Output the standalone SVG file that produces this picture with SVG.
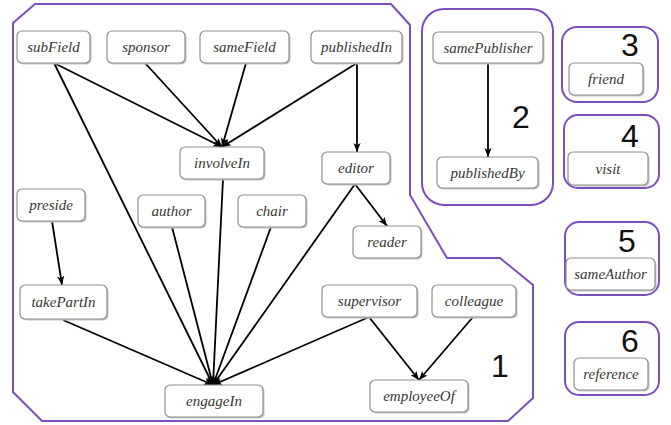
<svg xmlns="http://www.w3.org/2000/svg" width="671" height="425" viewBox="0 0 671 425">
<defs>
<marker id="arr" viewBox="0 0 10 8" refX="10" refY="4" markerWidth="9" markerHeight="8" markerUnits="userSpaceOnUse" orient="auto">
<path d="M0,0 L10,4 L0,8 L2.5,4 z" fill="#000"/>
</marker>
</defs>
<style>
.region{fill:none;stroke:#7b4fbd;stroke-width:2}
.shadow{fill:#c4c4c4;stroke:none}
.box{fill:#fff;stroke:#8f8f8f;stroke-width:1.2}
.lbl{font-family:"Liberation Serif","DejaVu Serif",serif;font-style:italic;font-size:15px;fill:#3a3633;text-anchor:middle}
.num{font-family:"Liberation Sans",Arial,sans-serif;font-size:32px;fill:#111;text-anchor:middle}
.edge{stroke:#000;stroke-width:1.8;fill:none;marker-end:url(#arr)}
</style>
<rect width="671" height="425" fill="#fff"/>
<g id="regions">
<polygon class="region" points="13,23 35,4 391,4 410,25 410,195 447,258 500,258 533,285 533,398 508,421 42,421 13,392"/>
<rect class="region" x="422" y="9" width="131" height="196" rx="22"/>
<rect class="region" x="562" y="27" width="96" height="75" rx="15"/>
<rect class="region" x="564" y="115" width="95" height="73" rx="14"/>
<rect class="region" x="565" y="222" width="94" height="73" rx="14"/>
<rect class="region" x="565" y="322" width="94" height="73" rx="14"/>
<text class="num" x="500" y="377">1</text>
<text class="num" x="521" y="128">2</text>
<text class="num" x="630" y="56">3</text>
<text class="num" x="630" y="147">4</text>
<text class="num" x="627" y="252">5</text>
<text class="num" x="630" y="352">6</text>
</g>
<g id="connectors">
<line class="edge" x1="54" y1="63" x2="222" y2="147"/>
<line class="edge" x1="54" y1="63" x2="213" y2="385"/>
<line class="edge" x1="145" y1="63" x2="222" y2="147"/>
<line class="edge" x1="246" y1="63" x2="222" y2="147"/>
<line class="edge" x1="357" y1="63" x2="222" y2="147"/>
<line class="edge" x1="357" y1="63" x2="357" y2="152"/>
<line class="edge" x1="223" y1="179" x2="213" y2="385"/>
<line class="edge" x1="172" y1="227" x2="213" y2="385"/>
<line class="edge" x1="271" y1="227" x2="213" y2="385"/>
<line class="edge" x1="355" y1="184" x2="213" y2="385"/>
<line class="edge" x1="355" y1="184" x2="387" y2="226"/>
<line class="edge" x1="52" y1="221" x2="62" y2="285"/>
<line class="edge" x1="63" y1="320" x2="213" y2="385"/>
<line class="edge" x1="369" y1="317" x2="213" y2="385"/>
<line class="edge" x1="369" y1="317" x2="419" y2="380"/>
<line class="edge" x1="473" y1="317" x2="419" y2="380"/>
<line class="edge" x1="488" y1="63" x2="488" y2="157"/>
</g>
<g id="n-subField"><rect class="shadow" x="18.5" y="32.5" width="73" height="32" rx="5"/><rect class="box" x="17" y="31" width="73" height="32" rx="5"/><text class="lbl" x="53.5" y="52">subField</text></g>
<g id="n-sponsor"><rect class="shadow" x="108.5" y="32.5" width="78" height="32" rx="5"/><rect class="box" x="107" y="31" width="78" height="32" rx="5"/><text class="lbl" x="146" y="52">sponsor</text></g>
<g id="n-sameField"><rect class="shadow" x="201.5" y="32.5" width="89" height="32" rx="5"/><rect class="box" x="200" y="31" width="89" height="32" rx="5"/><text class="lbl" x="244.5" y="52">sameField</text></g>
<g id="n-publishedIn"><rect class="shadow" x="312.5" y="32.5" width="91" height="32" rx="5"/><rect class="box" x="311" y="31" width="91" height="32" rx="5"/><text class="lbl" x="356.5" y="52">publishedIn</text></g>
<g id="n-involveIn"><rect class="shadow" x="181.5" y="148.5" width="84" height="32" rx="5"/><rect class="box" x="180" y="147" width="84" height="32" rx="5"/><text class="lbl" x="222" y="168">involveIn</text></g>
<g id="n-editor"><rect class="shadow" x="323.5" y="153.5" width="68" height="32" rx="5"/><rect class="box" x="322" y="152" width="68" height="32" rx="5"/><text class="lbl" x="356" y="173">editor</text></g>
<g id="n-preside"><rect class="shadow" x="18.5" y="190.5" width="68" height="32" rx="5"/><rect class="box" x="17" y="189" width="68" height="32" rx="5"/><text class="lbl" x="51" y="210">preside</text></g>
<g id="n-author"><rect class="shadow" x="139.5" y="196.5" width="67" height="32" rx="5"/><rect class="box" x="138" y="195" width="67" height="32" rx="5"/><text class="lbl" x="171.5" y="216">author</text></g>
<g id="n-chair"><rect class="shadow" x="239.5" y="196.5" width="68" height="32" rx="5"/><rect class="box" x="238" y="195" width="68" height="32" rx="5"/><text class="lbl" x="272" y="216">chair</text></g>
<g id="n-reader"><rect class="shadow" x="354.5" y="227.5" width="68" height="32" rx="5"/><rect class="box" x="353" y="226" width="68" height="32" rx="5"/><text class="lbl" x="387" y="247">reader</text></g>
<g id="n-takePartIn"><rect class="shadow" x="21.5" y="286.5" width="87" height="34" rx="5"/><rect class="box" x="20" y="285" width="87" height="34" rx="5"/><text class="lbl" x="63.5" y="307">takePartIn</text></g>
<g id="n-supervisor"><rect class="shadow" x="323.5" y="286.5" width="95" height="32" rx="5"/><rect class="box" x="322" y="285" width="95" height="32" rx="5"/><text class="lbl" x="369.5" y="306">supervisor</text></g>
<g id="n-colleague"><rect class="shadow" x="433.5" y="286.5" width="84" height="32" rx="5"/><rect class="box" x="432" y="285" width="84" height="32" rx="5"/><text class="lbl" x="474" y="306">colleague</text></g>
<g id="n-engageIn"><rect class="shadow" x="166.5" y="386.5" width="98" height="32" rx="5"/><rect class="box" x="165" y="385" width="98" height="32" rx="5"/><text class="lbl" x="214" y="406">engageIn</text></g>
<g id="n-employeeOf"><rect class="shadow" x="371.5" y="381.5" width="98" height="32" rx="5"/><rect class="box" x="370" y="380" width="98" height="32" rx="5"/><text class="lbl" x="419" y="401">employeeOf</text></g>
<g id="n-samePublisher"><rect class="shadow" x="434.5" y="33.5" width="110" height="31" rx="5"/><rect class="box" x="433" y="32" width="110" height="31" rx="5"/><text class="lbl" x="488" y="52.5">samePublisher</text></g>
<g id="n-publishedBy"><rect class="shadow" x="438.5" y="158.5" width="101" height="31" rx="5"/><rect class="box" x="437" y="157" width="101" height="31" rx="5"/><text class="lbl" x="487.5" y="177.5">publishedBy</text></g>
<g id="n-friend"><rect class="shadow" x="570.5" y="64.5" width="74" height="32" rx="5"/><rect class="box" x="569" y="63" width="74" height="32" rx="5"/><text class="lbl" x="606" y="84">friend</text></g>
<g id="n-visit"><rect class="shadow" x="569.5" y="153.5" width="80" height="33" rx="5"/><rect class="box" x="568" y="152" width="80" height="33" rx="5"/><text class="lbl" x="608" y="173.5">visit</text></g>
<g id="n-sameAuthor"><rect class="shadow" x="567.5" y="259.5" width="89" height="32" rx="5"/><rect class="box" x="566" y="258" width="89" height="32" rx="5"/><text class="lbl" x="610.5" y="279">sameAuthor</text></g>
<g id="n-reference"><rect class="shadow" x="575.5" y="359.5" width="74" height="32" rx="5"/><rect class="box" x="574" y="358" width="74" height="32" rx="5"/><text class="lbl" x="611" y="379">reference</text></g>
</svg>
